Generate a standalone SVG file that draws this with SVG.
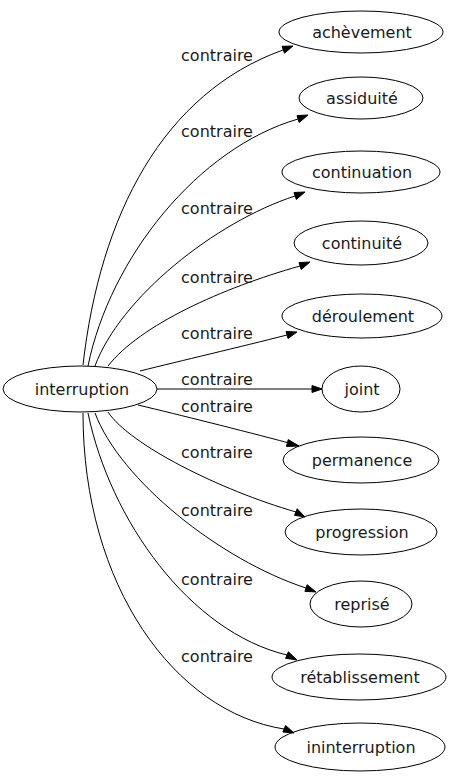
<svg xmlns="http://www.w3.org/2000/svg" width="456" height="779" viewBox="0 0 456 779">
<style>
.n ellipse{fill:none;stroke:#000;stroke-width:1}
.n text,.l{font-family:"DejaVu Sans",sans-serif;font-size:16px;fill:#1a1a1a;text-anchor:middle}
.e path{fill:none;stroke:#000;stroke-width:1}
.e polygon{fill:#000;stroke:#000;stroke-width:1}
</style>
<rect width="456" height="779" fill="#fff"/>
<g id="connectors" class="e">
<path d="M83,365 C100,215 163,93 283,50"/>
<polygon points="293,46 282,46.3 284.5,53.2"/>
<path d="M88,366 C110,258 198,148 298,119"/>
<polygon points="308,115 297,115.6 299.2,122.5"/>
<path d="M95,366 C120,298 215,222 295,196"/>
<polygon points="305,192 294,192.5 296.3,199.4"/>
<path d="M108,366 C140,325 222,288 300,266"/>
<polygon points="310,262 299,262.6 301.2,269.5"/>
<path d="M140,371 C180,361 240,347 287,335"/>
<polygon points="297,332 286,331.5 288,338.5"/>
<path d="M157,389 L312,389"/>
<polygon points="322,389 312,385.5 312,392.5"/>
<path d="M138,405 C180,415 240,430 289,443"/>
<polygon points="299,446 288.2,439.6 286.5,446.5"/>
<path d="M108,412 C130,445 220,490 296,512"/>
<polygon points="305,517 297.2,508.8 294.5,515.3"/>
<path d="M95,413 C120,480 220,560 306,588"/>
<polygon points="316,592 307.2,584.7 304.9,591.3"/>
<path d="M88,413 C110,520 190,632 287,655"/>
<polygon points="297,660 288.4,651.8 285.6,658.3"/>
<path d="M83,413 C83,586 175,712 284,729"/>
<polygon points="294,733 285.6,725.5 282.9,732"/>
</g>
<g id="interruption" class="n"><ellipse cx="80" cy="389" rx="77" ry="23"/><text x="82" y="394.5">interruption</text></g>
<g id="achevement" class="n"><ellipse cx="361" cy="32" rx="82" ry="21"/><text x="362" y="37.5">achèvement</text></g>
<g id="assiduite" class="n"><ellipse cx="361" cy="98" rx="62" ry="21"/><text x="362" y="103.5">assiduité</text></g>
<g id="continuation" class="n"><ellipse cx="361" cy="172" rx="79" ry="21"/><text x="362" y="177.5">continuation</text></g>
<g id="continuite" class="n"><ellipse cx="361" cy="243" rx="67" ry="22"/><text x="362" y="248.5">continuité</text></g>
<g id="deroulement" class="n"><ellipse cx="362" cy="316" rx="80" ry="22"/><text x="363" y="321.5">déroulement</text></g>
<g id="joint" class="n"><ellipse cx="361" cy="389" rx="39" ry="23"/><text x="362" y="394.5">joint</text></g>
<g id="permanence" class="n"><ellipse cx="361" cy="460" rx="78" ry="23"/><text x="362" y="465.5">permanence</text></g>
<g id="progression" class="n"><ellipse cx="361" cy="532" rx="76" ry="23"/><text x="362" y="537.5">progression</text></g>
<g id="reprise" class="n"><ellipse cx="361" cy="604" rx="51" ry="23"/><text x="362" y="609.5">reprisé</text></g>
<g id="retablissement" class="n"><ellipse cx="359" cy="677" rx="87" ry="23"/><text x="360" y="682.5">rétablissement</text></g>
<g id="ininterruption" class="n"><ellipse cx="360" cy="747" rx="85" ry="24"/><text x="361" y="752.5">ininterruption</text></g>
<g id="labels">
<text class="l" x="217" y="61">contraire</text>
<text class="l" x="217" y="137">contraire</text>
<text class="l" x="217" y="214">contraire</text>
<text class="l" x="217" y="283">contraire</text>
<text class="l" x="217" y="339">contraire</text>
<text class="l" x="217" y="385">contraire</text>
<text class="l" x="217" y="412">contraire</text>
<text class="l" x="217" y="458">contraire</text>
<text class="l" x="217" y="516">contraire</text>
<text class="l" x="217" y="585">contraire</text>
<text class="l" x="217" y="662">contraire</text>
</g>
</svg>
